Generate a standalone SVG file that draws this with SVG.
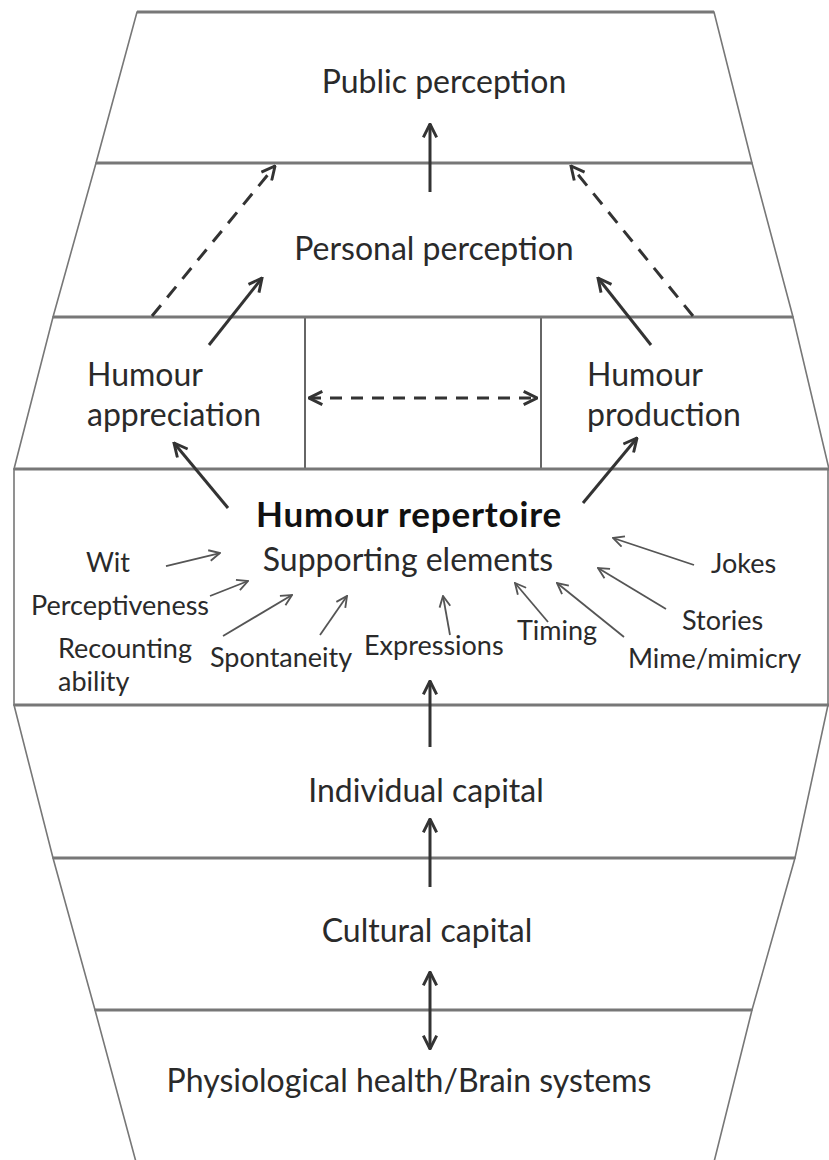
<svg xmlns="http://www.w3.org/2000/svg" width="829" height="1160" viewBox="0 0 829 1160">
<style>
.layer{fill:#fff;stroke:#777;stroke-width:1.6}
.hline{stroke:#777;stroke-width:3;fill:none}
.vline{stroke:#666;stroke-width:2;fill:none}
.big{font-family:Lato,"Liberation Sans",sans-serif;font-size:32px;fill:#2a2a2a}
.bold{font-family:Lato,"Liberation Sans",sans-serif;font-size:35px;font-weight:bold;letter-spacing:0.8px;fill:#111}
.small{font-family:Lato,"Liberation Sans",sans-serif;font-size:27px;fill:#2a2a2a}
.main{stroke:#333;stroke-width:3;fill:none;marker-end:url(#ah)}
.dash{stroke:#333;stroke-width:3;fill:none;stroke-dasharray:14 10;marker-end:url(#ah)}
.thin{stroke:#555;stroke-width:1.8;fill:none;marker-end:url(#sh)}
</style>
<defs>
<marker id="ah" viewBox="0 0 12 12" refX="11" refY="6" markerWidth="16" markerHeight="16" markerUnits="userSpaceOnUse" orient="auto-start-reverse">
<path d="M1,1 L11,6 L1,11" fill="none" stroke="#333" stroke-width="2.2"/>
</marker>
<marker id="sh" viewBox="0 0 12 12" refX="11" refY="6" markerWidth="13" markerHeight="13" markerUnits="userSpaceOnUse" orient="auto">
<path d="M1,1 L11,6 L1,11" fill="none" stroke="#555" stroke-width="1.7"/>
</marker>
</defs>
<rect width="829" height="1160" fill="#fff"/>

<g id="public-perception">
<polygon class="layer" points="137,12 714,12 752,163 96,163"/>
<text class="big" x="444" y="93" text-anchor="middle">Public perception</text>
</g>
<g id="personal-perception">
<polygon class="layer" points="96,163 752,163 793,317 53,317"/>
<text class="big" x="434" y="260" text-anchor="middle">Personal perception</text>
</g>
<g id="humour-appreciation-production">
<polygon class="layer" points="53,317 793,317 829,469 14,469"/>
<line class="vline" x1="305" y1="317" x2="305" y2="469"/>
<line class="vline" x1="541" y1="317" x2="541" y2="469"/>
</g>
<g id="humour-appreciation">
<text class="big" x="87" y="386">Humour</text>
<text class="big" x="87" y="426">appreciation</text>
</g>
<g id="humour-production">
<text class="big" x="587" y="386">Humour</text>
<text class="big" x="587" y="426">production</text>
</g>
<g id="humour-repertoire">
<rect class="layer" x="14" y="469" width="814" height="236"/>
<text class="bold" x="409" y="527" text-anchor="middle">Humour repertoire</text>
<text class="big" x="408" y="571" text-anchor="middle">Supporting elements</text>
</g>
<g id="individual-capital">
<polygon class="layer" points="14,705 828,705 795,858 53,858"/>
<text class="big" x="426" y="802" text-anchor="middle">Individual capital</text>
</g>
<g id="cultural-capital">
<polygon class="layer" points="53,858 795,858 752,1010 95,1010"/>
<text class="big" x="427" y="942" text-anchor="middle">Cultural capital</text>
</g>
<g id="physiological-health">
<polygon class="layer" points="95,1010 752,1010 714,1162 136,1162"/>
<text class="big" x="409" y="1092" text-anchor="middle">Physiological health/Brain systems</text>
</g>

<g id="boundaries">
<line class="hline" x1="137" y1="12" x2="714" y2="12"/>
<line class="hline" x1="96" y1="163" x2="752" y2="163"/>
<line class="hline" x1="53" y1="317" x2="793" y2="317"/>
<line class="hline" x1="14" y1="469" x2="829" y2="469"/>
<line class="hline" x1="14" y1="705" x2="829" y2="705"/>
<line class="hline" x1="53" y1="858" x2="795" y2="858"/>
<line class="hline" x1="95" y1="1010" x2="752" y2="1010"/>
</g>

<g id="element-labels">
<text class="small" x="86" y="572">Wit</text>
<text class="small" x="31" y="615">Perceptiveness</text>
<text class="small" x="58" y="658">Recounting</text>
<text class="small" x="58" y="691">ability</text>
<text class="small" x="210" y="667">Spontaneity</text>
<text class="small" x="364" y="655">Expressions</text>
<text class="small" x="517" y="640">Timing</text>
<text class="small" x="628" y="668">Mime/mimicry</text>
<text class="small" x="682" y="630">Stories</text>
<text class="small" x="711" y="573">Jokes</text>
</g>

<g id="connectors">
<line class="main" x1="430" y1="192" x2="430" y2="124"/>
<line class="dash" x1="152" y1="316" x2="275" y2="166"/>
<line class="dash" x1="693" y1="316" x2="571" y2="166"/>
<line class="main" x1="209" y1="345" x2="262" y2="278"/>
<line class="main" x1="651" y1="345" x2="598" y2="278"/>
<line class="dash" x1="309" y1="398" x2="537" y2="398" style="marker-start:url(#ah);stroke-dasharray:12 9"/>
<line class="main" x1="228" y1="508" x2="174" y2="443"/>
<line class="main" x1="583" y1="503" x2="637" y2="438"/>
<line class="main" x1="430" y1="747" x2="430" y2="681"/>
<line class="main" x1="430" y1="887" x2="430" y2="819"/>
<line class="main" x1="430" y1="972" x2="430" y2="1049" style="marker-start:url(#ah)"/>
<line class="thin" x1="166" y1="566" x2="220" y2="553"/>
<line class="thin" x1="210" y1="596" x2="248" y2="581"/>
<line class="thin" x1="223" y1="636" x2="292" y2="595"/>
<line class="thin" x1="320" y1="635" x2="347" y2="596"/>
<line class="thin" x1="450" y1="635" x2="443" y2="596"/>
<line class="thin" x1="548" y1="622" x2="515" y2="583"/>
<line class="thin" x1="624" y1="637" x2="557" y2="583"/>
<line class="thin" x1="666" y1="609" x2="598" y2="568"/>
<line class="thin" x1="694" y1="565" x2="613" y2="538"/>
</g>
</svg>
